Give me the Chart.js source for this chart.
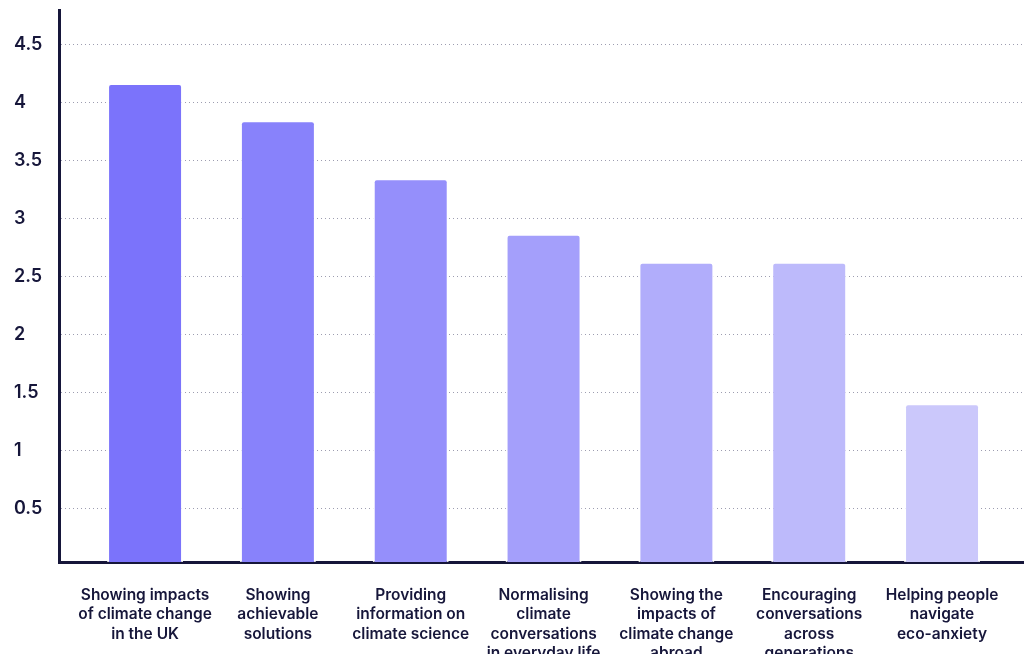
<!DOCTYPE html>
<html>
<head>
<meta charset="utf-8">
<script src="https://cdn.jsdelivr.net/npm/chart.js@4"></script>
<style>
  html, body { margin: 0; padding: 0; background: #fff; overflow: hidden; }
</style>
</head>
<body>
<canvas id="barChart" width="1024" height="654"></canvas>
<script>
var categories = [
  ["Showing impacts", "of climate change", "in the UK"],
  ["Showing", "achievable", "solutions"],
  ["Providing", "information on", "climate science"],
  ["Normalising", "climate", "conversations", "in everyday life"],
  ["Showing the", "impacts of", "climate change", "abroad"],
  ["Encouraging", "conversations", "across", "generations"],
  ["Helping people", "navigate", "eco-anxiety"],
];
var scores = [4.17, 3.85, 3.35, 2.87, 2.63, 2.63, 1.41];
var barColors = ["#7b73fb", "#8882fb", "#958ffb", "#a49ffb", "#b1adfb", "#bdbafb", "#cbc8fb"];
var yTicks = [0.5, 1, 1.5, 2, 2.5, 3, 3.5, 4, 4.5];

var ink = "#16163a";
var points = scores.map(function (v, i) { return { x: i, y: v }; });

var ctx = document.getElementById("barChart").getContext("2d");

var MyChart = new Chart(ctx, {
  type: "bar",
  data: {
    datasets: [
      {
        data: points,
        backgroundColor: barColors,
        borderColor: "rgba(255,255,255,0.85)",
        borderWidth: 2,
        borderRadius: 4,
        borderSkipped: "start",
        barPercentage: 0.572,
        categoryPercentage: 1,
      },
    ],
  },
  options: {
    responsive: false,
    animation: false,
    devicePixelRatio: 1,
    layout: { padding: { top: 10, left: 14, right: 0, bottom: 0 } },
    plugins: { legend: { display: false }, tooltip: { enabled: false } },
    scales: {
      x: {
        type: "linear",
        offset: false,
        min: -0.648,
        max: 6.617,
        grid: { display: false, offset: false },
        border: { display: true, color: ink, width: 3 },
        afterBuildTicks: function (scale) {
          scale.ticks = categories.map(function (c, i) { return { value: i }; });
        },
        afterFit: function (scale) {
          scale.height = 92;
          scale.paddingLeft = 0;
          scale.paddingRight = 0;
        },
        ticks: {
          autoSkip: false,
          maxRotation: 0,
          padding: 16,
          color: ink,
          font: { family: "Inter", size: 15.5, weight: "600", lineHeight: 1.24 },
          callback: function (v) { return categories[v]; },
        },
      },
      y: {
        min: 0.04,
        max: 4.8,
        afterBuildTicks: function (scale) {
          scale.ticks = yTicks.map(function (v) { return { value: v }; });
        },
        afterFit: function (scale) {
          scale.width = 45;
          scale.paddingTop = 0;
          scale.paddingBottom = 0;
        },
        grid: {
          drawTicks: false,
          color: "#9d9db0",
          lineWidth: 1,
        },
        border: { display: true, color: ink, width: 3, dash: [1, 3] },
        ticks: {
          crossAlign: "far",
          padding: 8,
          color: ink,
          font: { family: "Inter", size: 18, weight: "600" },
          callback: function (v) { return String(v); },
        },
      },
    },
  },
});
</script>
</body>
</html>
